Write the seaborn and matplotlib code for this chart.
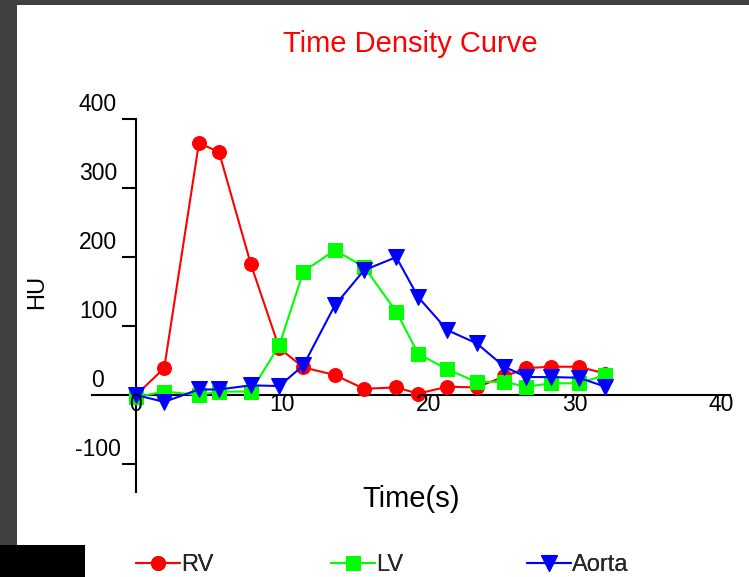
import matplotlib
matplotlib.use("Agg")
import matplotlib.pyplot as plt
from matplotlib.patches import Rectangle
from matplotlib.transforms import offset_copy
import seaborn as sns

# Sampling times (s) and enhancement (HU) for each region of interest
time_s = [0.0, 1.93, 4.3, 5.67, 7.85, 9.8, 11.45, 13.6, 15.6, 17.8,
          19.3, 21.3, 23.3, 25.2, 26.7, 28.4, 30.3, 32.1]
rv = [0, 39, 365, 353, 190, 68, 40, 29, 9, 11, 2, 12, 11, 27, 39, 41, 41, 31]
lv = [-3, 5, 0, 5, 5, 72, 179, 210, 186, 121, 60, 37, 19, 19, 12, 17, 17, 29]
aorta = [0, -10, 8, 8, 14, 13, 43, 130, 181, 200, 142, 94, 75, 41, 26, 26, 25, 12]

series_names = ["RV", "LV", "Aorta"]
x_ticks = [0, 10, 20, 30, 40]
x_tick_labels = ["0", "10", "20", "30", "40"]
y_ticks = [400, 300, 200, 100, 0, -100]
y_tick_labels = ["400", "300", "200", "100", "0", "-100"]

sns.set_style("white")
plt.rcParams["font.family"] = ["Liberation Sans", "DejaVu Sans"]

W, H = 749, 577
fig = plt.figure(figsize=(W / 100, H / 100), dpi=100)
fig.patch.set_facecolor("white")

# window frame around the plot
fig.add_artist(Rectangle((0, 1 - 5 / H), 1, 5 / H, transform=fig.transFigure,
                         color="#404040", lw=0))
fig.add_artist(Rectangle((0, 32 / H), 17 / W, 1 - 32 / H, transform=fig.transFigure,
                         color="#404040", lw=0))
fig.add_artist(Rectangle((0, 0), 85 / W, 32 / H, transform=fig.transFigure,
                         color="black", lw=0))

# axes placement in pixels: x=0 at 136px, 14.62 px/s ; y=0 at 395px, 0.6894 px/HU
x0px, xscale = 136.0, 14.62
y0px, yscale = 395.0, 0.6894
xlim = (-3.0, 40.6)
ylim = (-140.0, 400.0)
left_px = x0px + xlim[0] * xscale
right_px = x0px + xlim[1] * xscale
top_px = y0px - ylim[1] * yscale
bot_px = y0px - ylim[0] * yscale
ax = fig.add_axes([left_px / W, 1 - bot_px / H, (right_px - left_px) / W,
                   (bot_px - top_px) / H])
ax.set_facecolor("none")
ax.set_xlim(*xlim)
ax.set_ylim(*ylim)

styles = [("#FF0000", "o", 10), ("#00FF00", "s", 10), ("#0000FF", "v", 11)]
for name, values, (col, mk, ms) in zip(series_names, [rv, lv, aorta], styles):
    sns.lineplot(x=time_s, y=values, ax=ax, color=col, marker=mk, markersize=ms,
                 markeredgecolor=col, markerfacecolor=col, linewidth=1.5,
                 label=name, legend=False, zorder=3, sort=False)

# axis lines crossing at the origin
for s in ["top", "right"]:
    ax.spines[s].set_visible(False)
ax.spines["left"].set_position(("data", 0))
ax.spines["left"].set_bounds(ylim[0], ylim[1])
ax.spines["bottom"].set_position(("data", 0))
for s in ["left", "bottom"]:
    ax.spines[s].set_linewidth(1.5)
    ax.spines[s].set_color("black")

ax.set_yticks([v for v in y_ticks if v != 0])
ax.tick_params(axis="y", left=True, direction="out", length=10.3, width=1.5,
               color="black", labelleft=False)
ax.set_xticks([])
ax.set_xlabel("")
ax.set_ylabel("")

tick_fs = 16.5
x_lab_tr = offset_copy(ax.transData, fig=fig, x=0, y=-16.2, units="dots")
for v, lab in zip(x_ticks, x_tick_labels):
    ax.text(v, 0, lab, transform=x_lab_tr, ha="center", va="baseline",
            fontsize=tick_fs, color="black")
y_lab_tr = offset_copy(ax.transData, fig=fig, x=-38, y=7.8, units="dots")
for v, lab in zip(y_ticks, y_tick_labels):
    ax.text(0, v, lab, transform=y_lab_tr, ha="center", va="baseline",
            fontsize=tick_fs, color="black")

fig.text(410 / W, 1 - 51.5 / H, "Time Density Curve", color="#FF0000",
         fontsize=21, ha="center", va="baseline")
fig.text(411 / W, 1 - 507 / H, "Time(s)", color="black", fontsize=21,
         ha="center", va="baseline")
fig.text(43 / W, 1 - 292 / H, "HU", color="black", fontsize=17, rotation=90,
         rotation_mode="anchor", ha="center", va="baseline")

# one legend entry per column, columns evenly spaced
handles, labels = ax.get_legend_handles_labels()
for h, lab, xpx in zip(handles, labels, [136, 331, 527]):
    leg = fig.legend([h], [lab], loc="center left",
                     bbox_to_anchor=(xpx / W, 1 - 565 / H), frameon=False,
                     fontsize=17, handlelength=1.86, handletextpad=0.05,
                     borderpad=0, borderaxespad=0)
    fig.add_artist(leg)

fig.savefig("out.png", dpi=100)
